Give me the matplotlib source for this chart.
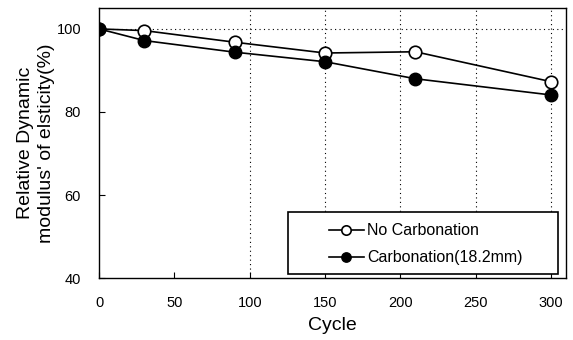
import matplotlib
matplotlib.use('Agg')
import matplotlib.pyplot as plt
from matplotlib.patches import Rectangle

plt.rcParams['font.family'] = ['Liberation Sans', 'DejaVu Sans']

cycles = [0, 30, 90, 150, 210, 300]
no_carb = [100, 99.6, 96.8, 94.2, 94.5, 87.3]
carb = [100, 97.2, 94.4, 92.1, 88.0, 84.1]
x_ticks = [0, 50, 100, 150, 200, 250, 300]
y_ticks = [40, 60, 80, 100]

fig = plt.figure(figsize=(5.73, 3.4), dpi=100)
ax = fig.add_axes([0.173, 0.182, 0.815, 0.794])

# dotted grid (only where the reference shows it)
for xv in x_ticks[2:]:
    ax.axvline(xv, color='black', lw=0.8, ls=(0, (1, 3)), zorder=0)
ax.axhline(100, color='black', lw=0.8, ls=(0, (1, 3)), zorder=0)

ax.plot(cycles, no_carb, '-o', color='black', mfc='white', mec='black',
        ms=9, lw=1.2, mew=1.2, label='No Carbonation')
ax.plot(cycles, carb, '-o', color='black', mfc='black', mec='black',
        ms=9, lw=1.2, label='Carbonation(18.2mm)')

ax.set_xlim(0, 310)
ax.set_ylim(40, 105)
ax.set_xticks(x_ticks)
ax.set_yticks(y_ticks)
ax.tick_params(direction='in', length=4, labelsize=10.5, pad=13)
for s in ax.spines.values():
    s.set_linewidth(1.0)

ax.set_xlabel('Cycle', fontsize=14, labelpad=5)
ax.set_ylabel("Relative Dynamic\nmodulus' of elsticity(%)", fontsize=14,
              labelpad=1, linespacing=1.35)

# legend frame drawn as a box, legend entries centred in it
box = (0.405, 0.015, 0.578, 0.23)
ax.add_patch(Rectangle(box[:2], box[2], box[3], transform=ax.transAxes,
                       fill=True, facecolor='white', edgecolor='black',
                       lw=1.2, zorder=5))
leg = ax.legend(loc='center', bbox_to_anchor=(box[0] + box[2] / 2 + 0.005,
                                              box[1] + box[3] / 2 - 0.005),
                fontsize=11.5, frameon=False,
                handlelength=2.2, labelspacing=0.75,
                handletextpad=0.2, markerscale=0.75)
leg.set_zorder(6)

fig.savefig('out.png', dpi=100)
